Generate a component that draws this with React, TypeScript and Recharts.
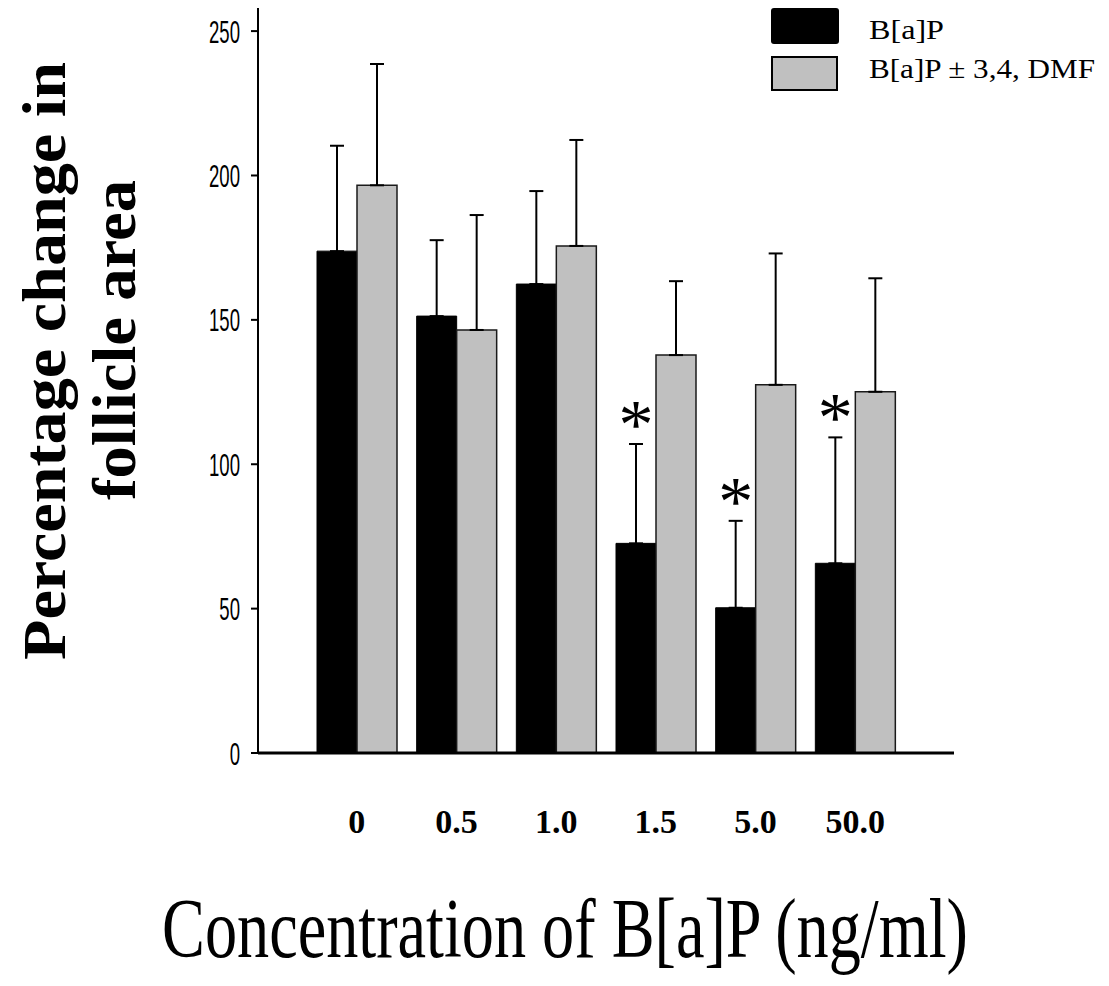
import React from 'react';
import { BarChart, Bar, XAxis, YAxis, ErrorBar, Legend, LabelList } from 'recharts';

// values (percentage change in follicle area)
const concentrations = ['0', '0.5', '1.0', '1.5', '5.0', '50.0'];
const bapMean = [173.8, 151.3, 162.4, 72.6, 50.3, 65.7];
const bapErr = [36.5, 26.3, 32.2, 34.4, 30.1, 43.6];
const dmfMean = [196.6, 146.5, 175.6, 137.8, 127.5, 125.1];
const dmfErr = [42.0, 39.8, 36.7, 25.6, 45.5, 39.3];
const bapSignificant = [false, false, false, true, true, true];
const yTicks = [0, 50, 100, 150, 200, 250];

const data = concentrations.map((c, i) => ({
  conc: c,
  bap: bapMean[i],
  bapErr: [0, bapErr[i]],
  dmf: dmfMean[i],
  dmfErr: [0, dmfErr[i]],
}));

const serif = '"Liberation Serif", "Times New Roman", Times, serif';
const sans = '"Liberation Sans", Arial, Helvetica, sans-serif';

const YTick = (props: any) => {
  const { x, y, payload } = props;
  return (
    <text
      transform={`translate(${x},${y}) scale(0.58,1)`}
      textAnchor="end"
      dy="0.36em"
      fontSize={32}
      fontFamily={sans}
      fill="#000"
    >
      {payload.value}
    </text>
  );
};

const XTick = (props: any) => {
  const { x, y, payload } = props;
  return (
    <text x={x} y={y} dy={80} textAnchor="middle" fontSize={34} fontWeight="bold" fontFamily={serif} fill="#000">
      {payload.value}
    </text>
  );
};

// asterisk drawn above the top of the error bar of significant B[a]P bars
const Star = (props: any) => {
  const { x, y, width, height, value, index } = props;
  if (!bapSignificant[index] || !value) return null;
  const perUnit = height / value;
  const errTop = y - bapErr[index] * perUnit;
  return (
    <text x={x + width / 2} y={errTop + 4} textAnchor="middle" fontSize={70} fontFamily={serif} fill="#000">
      *
    </text>
  );
};

const LegendBox = ({ payload }: any) => (
  <svg width={330} height={90} style={{ display: 'block' }}>
    {(payload || []).map((p: any, i: number) => (
      <g key={p.value}>
        {i === 0 ? (
          <rect x={0} y={0} width={68} height={36} rx={3} fill={p.color} />
        ) : (
          <rect x={1} y={49} width={65} height={33} fill={p.color} stroke="#000" strokeWidth={2} />
        )}
        <text
          x={98}
          y={i === 0 ? 31 : 70}
          fontSize={27}
          fontFamily={serif}
          fill="#000"
          textLength={i === 0 ? 75 : 226}
          lengthAdjust="spacingAndGlyphs"
        >
          {p.value}
        </text>
      </g>
    ))}
  </svg>
);

const YTitle = () => (
  <g fontFamily={serif} fontWeight="bold" fontSize={61} fill="#000">
    <text transform="translate(57,353) rotate(-90)" textAnchor="middle" textLength={598} lengthAdjust="spacingAndGlyphs">
      Percentage change in
    </text>
    <text transform="translate(127,332) rotate(-90)" textAnchor="middle" textLength={320} lengthAdjust="spacingAndGlyphs">
      follicle area
    </text>
  </g>
);

// the original title is set narrow, so squeeze it horizontally
const XTitle = () => (
  <text transform="translate(557,949) scale(0.765,1)" textAnchor="middle" fontSize={84} fontFamily={serif} fill="#000">
    Concentration of B[a]P (ng/ml)
  </text>
);

export default function App() {
  return (
    <div style={{ width: 1093, height: 978, background: '#fff' }}>
      <BarChart
        width={1093}
        height={978}
        data={data}
        margin={{ top: 0, right: 147, bottom: 0, left: 0 }}
        barCategoryGap={10}
        barGap={0}
      >
        <XAxis
          dataKey="conc"
          height={233}
          padding={{ left: 49, right: 49 }}
          tickLine={false}
          tickSize={0}
          tickMargin={0}
          interval={0}
          axisLine={{ stroke: '#000', strokeWidth: 3 }}
          tick={<XTick />}
          label={{ content: <XTitle /> }}
        />
        <YAxis
          domain={[0, 258]}
          ticks={yTicks}
          width={250}
          tickSize={7}
          tickMargin={11}
          axisLine={{ stroke: '#000', strokeWidth: 2 }}
          tickLine={{ stroke: '#000', strokeWidth: 2 }}
          tick={<YTick />}
          label={{ content: <YTitle /> }}
        />
        <Legend
          layout="horizontal"
          align="center"
          verticalAlign="middle"
          wrapperStyle={{ top: 0, left: 763, width: 330, height: 90 }}
          content={<LegendBox />}
        />
        <Bar dataKey="bap" name="B[a]P" fill="#000" stroke="#000" strokeWidth={1} isAnimationActive={false}>
          <ErrorBar dataKey="bapErr" direction="y" width={7} stroke="#000" strokeWidth={2} isAnimationActive={false} />
          <LabelList dataKey="bap" content={<Star />} />
        </Bar>
        <Bar dataKey="dmf" name="B[a]P ± 3,4, DMF" fill="#c0c0c0" stroke="#1a1a1a" strokeWidth={1.5} isAnimationActive={false}>
          <ErrorBar dataKey="dmfErr" direction="y" width={7} stroke="#000" strokeWidth={2} isAnimationActive={false} />
        </Bar>
      </BarChart>
    </div>
  );
}
